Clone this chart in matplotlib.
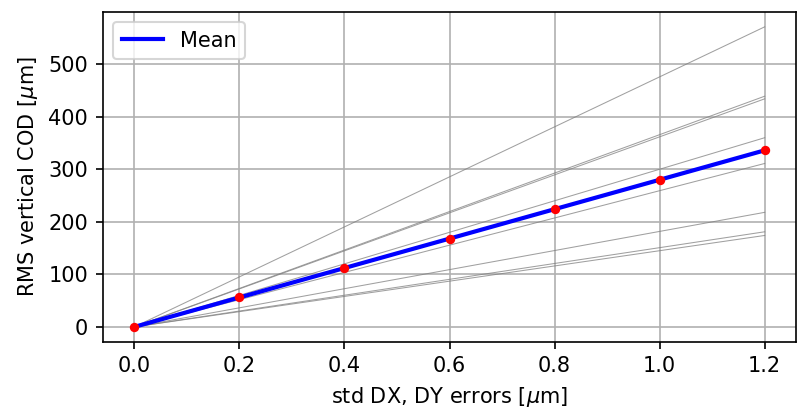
import numpy as np
import matplotlib
matplotlib.use("Agg")
import matplotlib.pyplot as plt

x_errors = [0.0, 0.2, 0.4, 0.6, 0.8, 1.0, 1.2]

run_1 = [0, 95.2, 190.3, 285.5, 380.7, 475.8, 571]
run_2 = [0, 73.2, 146.3, 219.5, 292.7, 365.8, 439]
run_3 = [0, 72.3, 144.7, 217.0, 289.3, 361.7, 434]
run_4 = [0, 60.0, 120.0, 180.0, 240.0, 300.0, 360]
run_5 = [0, 51.8, 103.7, 155.5, 207.3, 259.2, 311]
run_6 = [0, 36.3, 72.7, 109.0, 145.3, 181.7, 218]
run_7 = [0, 30.2, 60.3, 90.5, 120.7, 150.8, 181]
run_8 = [0, 29.0, 58.0, 87.0, 116.0, 145.0, 174]

runs = [run_1, run_2, run_3, run_4, run_5, run_6, run_7, run_8]
mean_vals = np.mean(np.array(runs), axis=0)

DPI = 150
fig = plt.figure(figsize=(797 / DPI, 408 / DPI), dpi=DPI)
ax = fig.add_axes([0.129, 0.162, 0.870, 0.809])

for r in runs:
    ax.plot(x_errors, r, color='gray', lw=0.5, alpha=0.75)
ax.plot(x_errors, mean_vals, color='blue', lw=2, label='Mean')
ax.plot(x_errors, mean_vals, 'o', color='red', ms=3.5)

ax.set_xlabel(r'std DX, DY errors [$\mu$m]')
ax.set_ylabel(r'RMS vertical COD [$\mu$m]')
ax.grid(True)
ax.legend(loc='upper left')

fig.savefig('out.png', dpi=DPI)
